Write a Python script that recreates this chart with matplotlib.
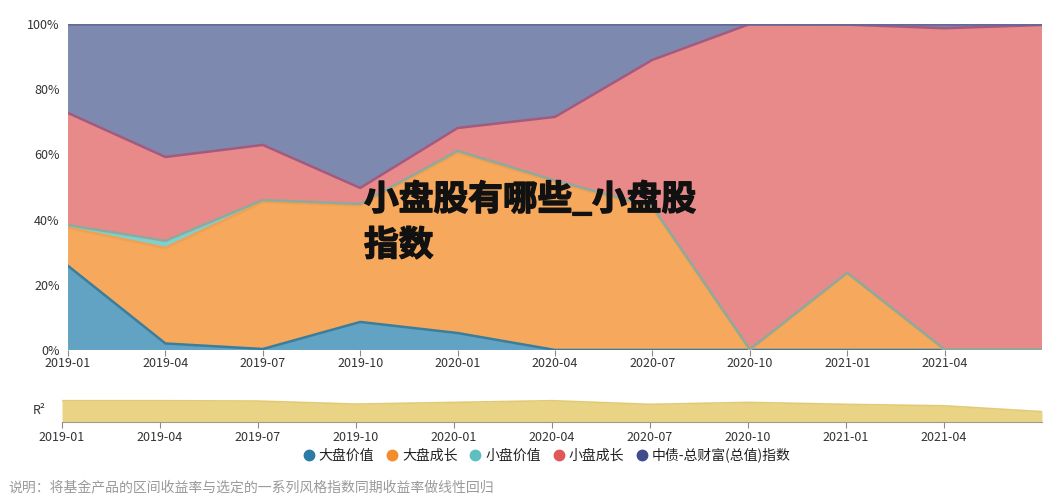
import numpy as np
import matplotlib
matplotlib.use("Agg")
import matplotlib.pyplot as plt
from matplotlib.lines import Line2D
import matplotlib.patheffects as pe

plt.rcParams["font.family"] = ["Noto Sans CJK SC", "DejaVu Sans"]

# ---- data (percent of style exposure) ----
periods = ["2019-01", "2019-04", "2019-07", "2019-10", "2020-01", "2020-04",
           "2020-07", "2020-10", "2021-01", "2021-04", "2021-07"]
tick_labels = periods[:-1]

large_value  = [25.8, 2.0, 0.3, 8.6, 5.2, 0.0, 0.0, 0.0, 0.0, 0.0, 0.0]
large_growth = [11.7, 29.3, 45.1, 35.7, 55.3, 51.5, 43.5, 0.0, 23.5, 0.0, 0.0]
small_value  = [0.8, 2.2, 0.6, 0.5, 0.6, 0.5, 0.5, 0.2, 0.2, 0.2, 0.2]
small_growth = [34.4, 25.7, 16.9, 4.9, 7.0, 19.5, 45.0, 99.8, 76.1, 98.5, 99.5]
bond_index   = [27.3, 40.8, 37.1, 50.3, 31.9, 28.5, 11.0, 0.0, 0.2, 1.3, 0.3]

r_squared = [0.89, 0.89, 0.875, 0.75, 0.82, 0.89, 0.74, 0.82, 0.74, 0.68, 0.44]

series_names = ["大盘价值", "大盘成长", "小盘价值", "小盘成长", "中债-总财富(总值)指数"]
fill_colors = ["#62a3c4", "#f6a95c", "#7fcfcf", "#e88a8a", "#7e89b0"]
line_colors = ["#3b7d9c", "#f0a050", "#8eaa9c", "#a45a7e", "#66689a"]
legend_colors = ["#2c7aa6", "#f28c2c", "#5fbfc0", "#e0575a", "#3f4b8c"]

# ---- figure ----
fig = plt.figure(figsize=(10.58, 5.03), dpi=100)
fig.patch.set_facecolor("white")

ax = fig.add_axes([0.0643, 0.3042, 0.9206, 0.6481])
x = np.arange(len(periods))
stack = np.vstack([large_value, large_growth, small_value, small_growth, bond_index])
ax.stackplot(x, stack, colors=fill_colors, linewidth=0)
tops = np.cumsum(stack, axis=0)
for i in range(len(series_names)):
    ax.plot(x, tops[i], color=line_colors[i], lw=1.8, solid_joinstyle="round")

ax.set_xlim(0, len(periods) - 1)
ax.set_ylim(0, 100)
ax.set_yticks([0, 20, 40, 60, 80, 100])
ax.set_yticklabels([f"{v}%" for v in range(0, 101, 20)])
ax.set_xticks(x[:-1])
ax.set_xticklabels(tick_labels)
for s in ["top", "right", "left", "bottom"]:
    ax.spines[s].set_visible(False)
ax.tick_params(axis="y", length=0, pad=6, labelsize=9, labelcolor="#333333")
ax.tick_params(axis="x", length=4, width=0.8, color="#8a8a8a", pad=1,
               labelsize=9, labelcolor="#333333")

# ---- R² strip ----
ax2 = fig.add_axes([0.0586, 0.1604, 0.9263, 0.0483])
ax2.fill_between(x, 0, r_squared, color="#e9d486", lw=0)
ax2.plot(x, r_squared, color="#e2ca74", lw=1.2)
ax2.set_xlim(0, len(periods) - 1)
ax2.set_ylim(0, 1)
ax2.set_yticks([])
ax2.set_xticks(x[:-1])
ax2.set_xticklabels(tick_labels)
for s in ["top", "right", "left"]:
    ax2.spines[s].set_visible(False)
ax2.spines["bottom"].set_color("#a09a88")
ax2.spines["bottom"].set_linewidth(0.8)
ax2.tick_params(axis="x", length=4, width=0.8, color="#8a8a8a", pad=2,
                labelsize=9, labelcolor="#333333")
fig.text(33 / 1058, 1 - 410 / 503, "R²", fontsize=9, color="#333333",
         ha="left", va="center")

# ---- legend ----
handles = [Line2D([], [], ls="none", marker="o", markersize=7.5,
                  markerfacecolor=c, markeredgecolor=c) for c in legend_colors]
fig.legend(handles, series_names, loc="center", ncol=5,
           bbox_to_anchor=(547 / 1058, 1 - 455 / 503), frameon=False,
           fontsize=10, handlelength=0.8, handletextpad=0.3, columnspacing=0.9,
           labelcolor="#222222")

# ---- footnote ----
fig.text(8 / 1058, 1 - 487 / 503,
         "说明：将基金产品的区间收益率与选定的一系列风格指数同期收益率做线性回归",
         fontsize=10, color="#9a9a9a", ha="left", va="center")

# ---- overlay title ----
fig.text(364 / 1058, 1 - 182 / 503, "小盘股有哪些_小盘股\n指数",
         fontsize=25, fontweight="heavy", color="#111111",
         ha="left", va="top", linespacing=1.38,
         path_effects=[pe.withStroke(linewidth=1.0, foreground="#111111")])

fig.savefig("out.png", dpi=100)
